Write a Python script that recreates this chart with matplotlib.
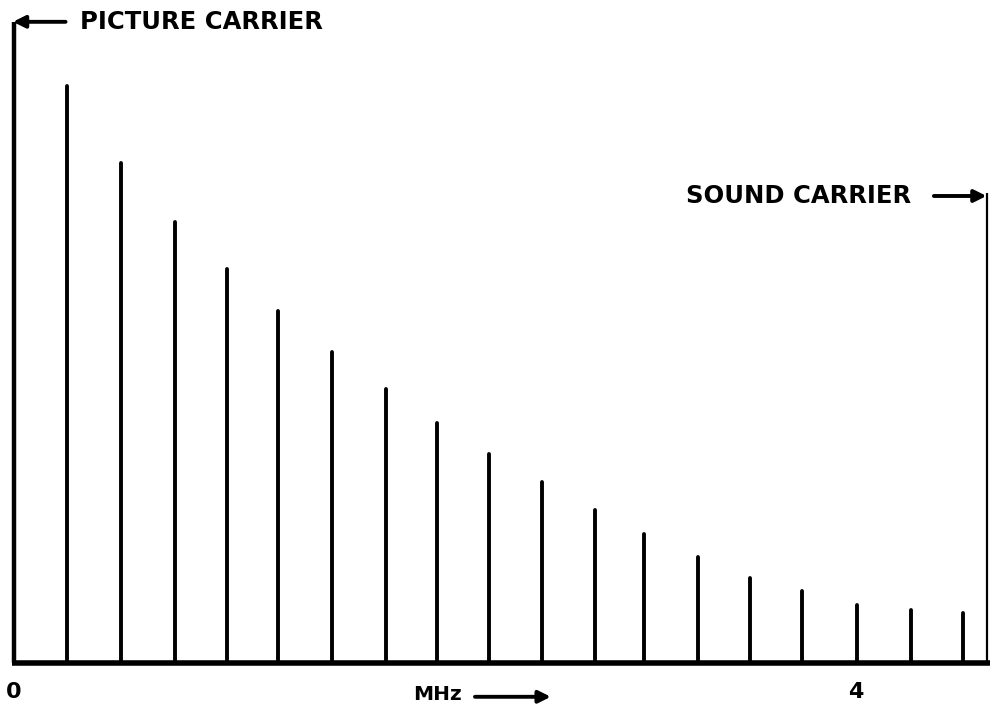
import matplotlib
matplotlib.use("Agg")
import matplotlib.pyplot as plt

plt.rcParams["font.family"] = ["DejaVu Sans"]

# sidebands of the picture carrier (MHz, relative amplitude)
sideband_freq = [0.25, 0.51, 0.765, 1.01, 1.255, 1.51, 1.765, 2.01, 2.255,
                 2.51, 2.76, 2.995, 3.25, 3.495, 3.745, 4.005, 4.26, 4.51]
sideband_amp = [0.904, 0.784, 0.691, 0.618, 0.552, 0.487, 0.429, 0.376, 0.328,
                0.284, 0.240, 0.202, 0.166, 0.133, 0.113, 0.091, 0.083, 0.078]

picture_freq, picture_amp = 0.0, 1.005
sound_freq, sound_amp = 4.62, 0.737

tick_freqs = [0, 4]
tick_labels = ["0", "4"]

fig = plt.figure(figsize=(9.9, 7.13), dpi=100)
ax = fig.add_axes([0, 0, 1, 1])
ax.set_xlim(-0.0665, 4.6366)
ax.set_ylim(-0.0784, 1.0392)
ax.axis("off")

ink = "black"
fs = 17.5

# baseline
ax.plot([-0.01, 4.64], [0, 0], color=ink, lw=4.0, solid_capstyle="butt")

# sideband lines
ax.vlines(sideband_freq, 0, sideband_amp, color=ink, lw=2.8, capstyle="round")

# picture carrier
ax.vlines(picture_freq, 0, picture_amp, color=ink, lw=3.2)
ax.annotate("", xy=(picture_freq - 0.005, picture_amp), xytext=(picture_freq + 0.245, picture_amp),
            arrowprops=dict(arrowstyle="-|>", color=ink, lw=2.8, mutation_scale=18,
                            shrinkA=0, shrinkB=0))
ax.text(0.315, picture_amp, "PICTURE CARRIER", fontsize=fs, fontweight="bold",
        ha="left", va="center", color=ink)

# sound carrier
ax.vlines(sound_freq, 0, sound_amp, color=ink, lw=1.6)
ax.annotate("", xy=(sound_freq, sound_amp - 0.005), xytext=(sound_freq - 0.25, sound_amp - 0.005),
            arrowprops=dict(arrowstyle="-|>", color=ink, lw=2.8, mutation_scale=18,
                            shrinkA=0, shrinkB=0))
ax.text(4.26, sound_amp - 0.005, "SOUND CARRIER", fontsize=fs, fontweight="bold",
        ha="right", va="center", color=ink)

# frequency labels
for f, lab in zip(tick_freqs, tick_labels):
    ax.text(f, -0.045, lab, fontsize=16, fontweight="bold", ha="center", va="center", color=ink)
ax.text(2.13, -0.05, "MHz", fontsize=14.5, fontweight="bold", ha="right", va="center", color=ink)
ax.annotate("", xy=(2.55, -0.053), xytext=(2.19, -0.053),
            arrowprops=dict(arrowstyle="-|>", color=ink, lw=2.8, mutation_scale=18,
                            shrinkA=0, shrinkB=0))

fig.savefig("out.png", dpi=100)
